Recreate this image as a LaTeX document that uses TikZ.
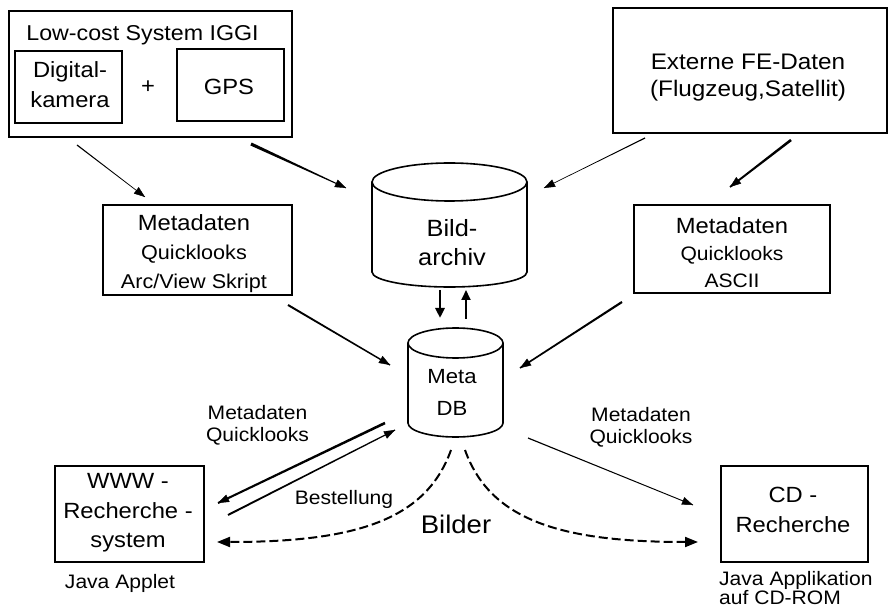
\documentclass[tikz,border=0pt]{standalone}
\usepackage{fontspec}
\setmainfont{Liberation Sans}[FakeStretch=1.08]
\usetikzlibrary{arrows.meta,calc}
\newcommand{\fsz}[2]{\fontsize{#1}{#2}\selectfont}
% tapered connector: start, end, start half width, end half width
\newcommand{\taperarr}[4]{%
  \fill ($(#1)!#3!90:(#2)$) -- ($(#1)!#3!-90:(#2)$) -- ($(#2)!#4!90:(#1)$) -- ($(#2)!#4!-90:(#1)$) -- cycle;
  \draw[arr,line width=0.4pt] ($(#2)!8pt!(#1)$) -- (#2);}
\begin{document}
\begin{tikzpicture}[x=1pt,y=-1pt,
  box/.style={draw,line width=1.8pt,inner sep=0pt},
  txt/.style={inner sep=0pt,align=center},
  region/.style={inner sep=0pt},
  cyl/.style={line width=1.6pt},
  arr/.style={-{Triangle[length=11pt,width=8pt]}},
  dasharr/.style={line width=2pt,dash pattern=on 9pt off 4pt,-{Triangle[length=13pt,width=10pt]}}]
\useasboundingbox (0,0) rectangle (892,609);

% ---- top left system box
\node[box,minimum width=283pt,minimum height=126pt] (lowcost) at (150.5,74) {};
\node[txt,anchor=base,font=\fsz{21.5}{26}] (lowtitle) at (142.5,41) {Low-cost System IGGI};
\node[box,minimum width=107pt,minimum height=72pt] (digi) at (68.5,87) {};
\node[txt,font=\fsz{22}{30}] (digitxt) at (70,85) {Digital-\\kamera};
\node[txt,font=\fsz{22}{26}] (plus) at (148,87) {+};
\node[box,minimum width=107pt,minimum height=72pt] (gps) at (230.5,85) {};
\node[txt,anchor=base,font=\fsz{22}{26}] (gpstxt) at (229,95) {GPS};

% ---- external data box
\node[box,minimum width=274pt,minimum height=125pt] (ext) at (750,70.5) {};
\node[txt,font=\fsz{22.5}{27.5}] (exttxt) at (748,77.5) {Externe FE-Daten\\(Flugzeug,Satellit)};

% ---- metadata boxes
\node[box,minimum width=189pt,minimum height=90pt] (metaL) at (197.5,250) {};
\node[txt,font=\fsz{20}{29}] (metaLtxt) at (194,254) {{\fsz{22}{29}Metadaten}\\Quicklooks\\Arc/View Skript};
\node[box,minimum width=196pt,minimum height=88pt] (metaR) at (732,249) {};
\node[txt,font=\fsz{19.5}{27}] (metaRtxt) at (732,253) {{\fsz{22}{27}Metadaten}\\Quicklooks\\ASCII};

% ---- Bildarchiv cylinder
\node[region,minimum width=155pt,minimum height=124pt] (bild) at (449.5,225) {};
\draw[cyl] (449.5,182) ellipse [x radius=77.5, y radius=19];
\draw[cyl] (372,182) -- (372,272) arc[start angle=180,end angle=0,x radius=77.5,y radius=15] -- (527,182);
\node[txt,font=\fsz{23.5}{29}] (bildtxt) at (452,243) {Bild-\\archiv};

% ---- Meta DB cylinder
\node[region,minimum width=95pt,minimum height=109pt] (metadb) at (455.5,382.5) {};
\draw[cyl] (455.5,343) ellipse [x radius=47.5, y radius=15];
\draw[cyl] (408,343) -- (408,423) arc[start angle=180,end angle=0,x radius=47.5,y radius=14] -- (503,343);
\node[txt,font=\fsz{20.5}{32}] (metadbtxt) at (452,392) {Meta\\DB};

% ---- research systems
\node[box,minimum width=149pt,minimum height=96pt] (www) at (129.5,514) {};
\node[txt,font=\fsz{22}{29.5}] (wwwtxt) at (128,513) {WWW -\\Recherche -\\system};
\node[txt,anchor=base,font=\fsz{19.5}{22}] (applet) at (120,588) {Java Applet};
\node[box,minimum width=147pt,minimum height=96pt] (cd) at (794.5,514) {};
\node[txt,font=\fsz{22}{30}] (cdtxt) at (793,510) {CD -\\Recherche};
\node[txt,anchor=west,align=left,font=\fsz{19.5}{18.5}] (applik) at (719,588) {Java Applikation\\auf CD-ROM};

% ---- labels
\node[txt,font=\fsz{19.5}{22}] (lblL) at (257.5,425) {Metadaten\\Quicklooks};
\node[txt,font=\fsz{19.5}{22}] (lblR) at (641,427) {Metadaten\\Quicklooks};
\node[txt,anchor=base,font=\fsz{19.5}{22}] (lblB) at (344,504) {Bestellung};
\node[txt,anchor=base,font=\fsz{25.5}{30}] (lblBilder) at (456,533) {Bilder};

% ---- connector end points
\coordinate (a1s) at (77,145);   \coordinate (a1e) at (145,197);
\coordinate (a2s) at (251,144);  \coordinate (a2e) at (346,188);
\coordinate (a3s) at (645,138);  \coordinate (a3e) at (544,188);
\coordinate (a4s) at (791,140);  \coordinate (a4e) at (730,187);
\coordinate (a5s) at (288,305);  \coordinate (a5e) at (390,365);
\coordinate (a6s) at (622,302);  \coordinate (a6e) at (520,368);
\coordinate (dns) at (440,290);  \coordinate (dne) at (440,318);
\coordinate (ups) at (466,319);  \coordinate (upe) at (466,290);
\coordinate (w1s) at (385,423);  \coordinate (w1e) at (218,503);
\coordinate (w2s) at (228,515);  \coordinate (w2e) at (395,430);
\coordinate (c1s) at (528,438);  \coordinate (c1e) at (693,505);
\coordinate (bls) at (451,450);  \coordinate (ble) at (217,542);
\coordinate (brs) at (465,450);  \coordinate (bre) at (698,542);

% ---- connectors (tapered, thick at the start)
\taperarr{a1s}{a1e}{0.6pt}{0.3pt}
\taperarr{a2s}{a2e}{1.6pt}{0.4pt}
\taperarr{a3s}{a3e}{0.6pt}{0.25pt}
\taperarr{a4s}{a4e}{1.3pt}{0.9pt}
\taperarr{a5s}{a5e}{1.0pt}{0.7pt}
\taperarr{a6s}{a6e}{1.1pt}{0.8pt}
\taperarr{w1s}{w1e}{1.3pt}{1.0pt}
\taperarr{w2s}{w2e}{1.0pt}{0.6pt}
\taperarr{c1s}{c1e}{0.6pt}{0.45pt}
\draw[line width=2.5pt,-{Triangle[length=10pt,width=9pt]}] (dns) -- (dne);
\draw[line width=1.8pt,-{Triangle[length=10pt,width=9pt]}] (ups) -- (upe);
\draw[dasharr] (bls) .. controls (426,520) and (356,542) .. (ble);
\draw[dasharr] (brs) .. controls (490,520) and (560,542) .. (bre);
\end{tikzpicture}
\end{document}
